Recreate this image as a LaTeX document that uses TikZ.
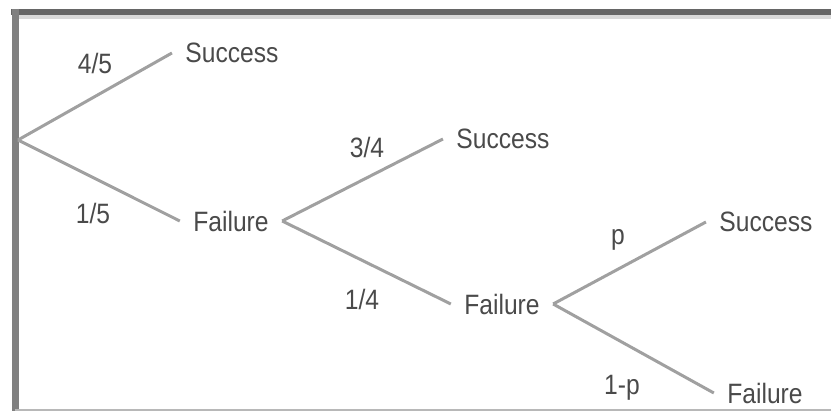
\documentclass[tikz,border=0pt]{standalone}
\usepackage{fontspec}
\setmainfont{Liberation Sans}[FakeStretch=0.88]
\definecolor{inkgray}{HTML}{4A4A4A}
\definecolor{edgegray}{HTML}{A0A0A0}
\definecolor{framegray}{HTML}{666666}
\begin{document}
\begin{tikzpicture}[
  x=1pt,y=-1pt,
  every node/.style={text=inkgray,font=\fontsize{28}{30}\selectfont,inner xsep=12pt,inner ysep=2pt},
  prob/.style={inner sep=0pt},
  every path/.style={line width=3pt,edgegray},
  ]
  \useasboundingbox (0,0) rectangle (831,411);
  % frame
  \draw[framegray,line width=6pt] (11,12) -- (831,12);
  \draw[black!15,line width=4pt] (17,17) -- (831,17);
  \draw[black!50,line width=7pt] (15,9) -- (15,411);
  \draw[black!28,line width=2pt] (15,410) -- (831,410);
  % tree
  \coordinate (root) at (18,140);
  \node (succ1) at (232,53) {Success};
  \node (fail1) at (231,221) {Failure};
  \node (succ2) at (503,139) {Success};
  \node (fail2) at (502,304) {Failure};
  \node (succ3) at (766,222) {Success};
  \node (fail3) at (765,393) {Failure};
  \foreach \from/\to in {root/succ1.west,root/fail1.west,fail1.east/succ2.west,
    fail1.east/fail2.west,fail2.east/succ3.west,fail2.east/fail3.west}
    \draw (\from) -- (\to);
  \node[prob] (p45) at (95,63) {4/5};
  \node[prob] (p15) at (93,213) {1/5};
  \node[prob] (p34) at (367,147) {3/4};
  \node[prob] (p14) at (362,299) {1/4};
  \node[prob] (pp) at (618,240) {p};
  \node[prob] (pq) at (622,388) {1-p};
\end{tikzpicture}
\end{document}
